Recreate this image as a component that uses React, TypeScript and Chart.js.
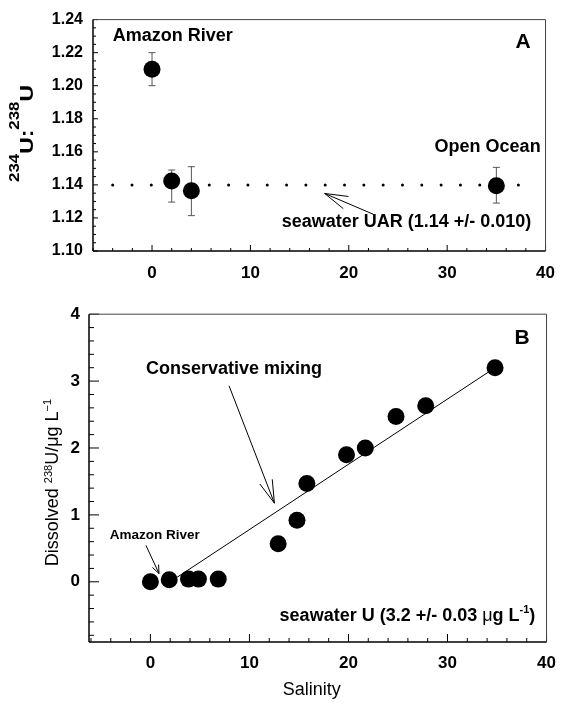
import React, { useEffect, useRef } from 'react';
import { Chart, registerables } from 'chart.js';

Chart.register(...registerables);

const FONT = "'Liberation Sans', Arial, Helvetica, sans-serif";

// ---------- Panel A data ----------
const uarSalinity = [0, 2, 4, 35];
const uarRatio = [1.21, 1.1424, 1.1365, 1.1395];
const uarHigh = [1.22, 1.149, 1.151, 1.1506];
const uarLow = [1.2, 1.1296, 1.1214, 1.129];
const seawaterUAR = 1.14;
const seawaterLineX = [-4, 38.2];
const aYTicks = [1.1, 1.12, 1.14, 1.16, 1.18, 1.2, 1.22, 1.24];
const xTicks = [0, 10, 20, 30, 40];

// ---------- Panel B data ----------
const uSalinity = [0, 1.9, 3.85, 4.85, 6.85, 12.9, 14.8, 15.8, 19.8, 21.7, 24.8, 27.8, 34.8];
const uDissolved = [0.0, 0.03, 0.04, 0.04, 0.04, 0.57, 0.92, 1.47, 1.9, 2.0, 2.47, 2.63, 3.2];
const mixingX = [2, 34.8];
const mixingY = [0, 3.2];
const bYTicks = [0, 1, 2, 3, 4];

type Part = { t: string; size: number; weight?: string; raise?: number };

function fontOf(p: Part) {
  return `${p.weight || 'bold'} ${p.size}px ${FONT}`;
}
function partsWidth(ctx: CanvasRenderingContext2D, parts: Part[]) {
  let w = 0;
  for (const p of parts) {
    ctx.font = fontOf(p);
    w += ctx.measureText(p.t).width;
  }
  return w;
}
function drawParts(ctx: CanvasRenderingContext2D, parts: Part[], x: number, y: number, align: string) {
  const w = partsWidth(ctx, parts);
  let cx = align === 'left' ? x : align === 'right' ? x - w : x - w / 2;
  ctx.textAlign = 'left';
  ctx.textBaseline = 'alphabetic';
  ctx.fillStyle = '#000';
  for (const p of parts) {
    ctx.font = fontOf(p);
    ctx.fillText(p.t, cx, y - (p.raise || 0));
    cx += ctx.measureText(p.t).width;
  }
}
function drawRotated(ctx: CanvasRenderingContext2D, parts: Part[], x: number, y: number, targetLen?: number) {
  ctx.save();
  ctx.translate(x, y);
  ctx.rotate(-Math.PI / 2);
  if (targetLen) {
    const w = partsWidth(ctx, parts);
    ctx.scale(targetLen / w, 1);
  }
  drawParts(ctx, parts, 0, 0, 'center');
  ctx.restore();
}
function line(ctx: CanvasRenderingContext2D, x1: number, y1: number, x2: number, y2: number) {
  ctx.beginPath();
  ctx.moveTo(x1, y1);
  ctx.lineTo(x2, y2);
  ctx.stroke();
}
function drawArrow(ctx: CanvasRenderingContext2D, tx: number, ty: number, hx: number, hy: number, len: number, deg: number) {
  ctx.save();
  ctx.strokeStyle = '#000';
  ctx.lineWidth = 1;
  line(ctx, tx, ty, hx, hy);
  const ang = Math.atan2(ty - hy, tx - hx);
  const a = (deg * Math.PI) / 180;
  for (const s of [-1, 1]) {
    line(ctx, hx, hy, hx + len * Math.cos(ang + s * a), hy + len * Math.sin(ang + s * a));
  }
  ctx.restore();
}
function drawInwardTicks(chart: any, axis: 'x' | 'y', step: number, majorEvery: number, minorLen: number, majorLen: number) {
  const s = chart.scales[axis];
  const a = chart.chartArea;
  const ctx = chart.ctx as CanvasRenderingContext2D;
  ctx.save();
  ctx.strokeStyle = '#000';
  ctx.lineWidth = 1;
  const i0 = Math.ceil(s.min / step - 1e-9);
  const i1 = Math.floor(s.max / step + 1e-9);
  for (let i = i0; i <= i1; i++) {
    const v = i * step;
    const isMajor = i % majorEvery === 0;
    const len = isMajor ? majorLen : minorLen;
    const p = s.getPixelForValue(v);
    if (axis === 'x') line(ctx, p, a.bottom, p, a.bottom - len);
    else line(ctx, a.left, p, a.left + len, p);
  }
  ctx.restore();
}
function drawFrame(chart: any) {
  const a = chart.chartArea;
  const ctx = chart.ctx as CanvasRenderingContext2D;
  ctx.save();
  ctx.strokeStyle = '#444';
  ctx.lineWidth = 1;
  line(ctx, a.left, a.top, a.right, a.top);
  line(ctx, a.right, a.top, a.right, a.bottom);
  ctx.strokeStyle = '#000';
  ctx.lineWidth = 1.5;
  line(ctx, a.left, a.top, a.left, a.bottom);
  line(ctx, a.left, a.bottom, a.right, a.bottom);
  ctx.restore();
}

const tickFont = (size: number) => ({ family: FONT, size, weight: 'bold' as const });

function makeConfigA(): any {
  const plugin = {
    id: 'panelA',
    beforeDatasetsDraw(chart: any) {
      const ctx = chart.ctx as CanvasRenderingContext2D;
      const x = chart.scales.x;
      const y = chart.scales.y;
      ctx.save();
      ctx.strokeStyle = '#555';
      ctx.lineWidth = 1;
      uarSalinity.forEach((sx, i) => {
        const px = x.getPixelForValue(sx);
        const ph = y.getPixelForValue(uarHigh[i]);
        const pl = y.getPixelForValue(uarLow[i]);
        line(ctx, px, ph, px, pl);
        line(ctx, px - 3.5, ph, px + 3.5, ph);
        line(ctx, px - 3.5, pl, px + 3.5, pl);
      });
      ctx.restore();
    },
    afterDatasetsDraw(chart: any) {
      const ctx = chart.ctx as CanvasRenderingContext2D;
      const x = chart.scales.x;
      const y = chart.scales.y;
      const X = (v: number) => x.getPixelForValue(v);
      const Y = (v: number) => y.getPixelForValue(v);
      drawInwardTicks(chart, 'x', 2, 5, 3, 6);
      drawInwardTicks(chart, 'y', 0.005, 4, 3, 5);
      drawFrame(chart);
      drawParts(ctx, [{ t: 'Amazon River', size: 18 }], X(-4), Y(1.2268), 'left');
      drawParts(ctx, [{ t: 'A', size: 21 }], X(38.5), Y(1.2226), 'right');
      drawParts(ctx, [{ t: 'Open Ocean', size: 18 }], X(39.5), Y(1.16), 'right');
      drawParts(ctx, [{ t: 'seawater UAR (1.14 +/- 0.010)', size: 18 }], X(38.55), Y(1.1144), 'right');
      drawArrow(ctx, X(22.5), Y(1.1222), X(17.55), Y(1.1348), 24, 16);
      drawRotated(
        ctx,
        [
          { t: '234', size: 14, raise: 14 },
          { t: 'U', size: 19 },
          { t: ':', size: 19 },
          { t: '238', size: 14, raise: 14 },
          { t: 'U', size: 19 },
        ],
        33,
        133.5,
        97
      );
    },
  };
  return {
    data: {
      datasets: [
        {
          type: 'scatter',
          data: uarSalinity.map((sx, i) => ({ x: sx, y: uarRatio[i] })),
          pointRadius: 8.5,
          pointBackgroundColor: '#000',
          pointBorderWidth: 0,
          order: 0,
        },
        {
          type: 'line',
          data: seawaterLineX.map((sx) => ({ x: sx, y: seawaterUAR })),
          borderColor: '#000',
          borderWidth: 3,
          borderDash: [0.001, 19.319],
          borderCapStyle: 'round',
          pointRadius: 0,
          order: 1,
        },
      ],
    },
    options: {
      responsive: false,
      animation: false,
      layout: { padding: { left: 0, right: 11, top: 18, bottom: 0 } },
      plugins: { legend: { display: false }, tooltip: { enabled: false } },
      scales: {
        x: {
          type: 'linear',
          min: -6,
          max: 40,
          afterBuildTicks: (s: any) => {
            s.ticks = xTicks.map((v) => ({ value: v }));
          },
          afterFit: (s: any) => {
            s.height = 44;
          },
          grid: { display: false, drawTicks: false },
          border: { display: false },
          ticks: { font: tickFont(17), color: '#000', padding: 12, maxRotation: 0, autoSkip: false },
        },
        y: {
          type: 'linear',
          min: 1.1,
          max: 1.24,
          afterBuildTicks: (s: any) => {
            s.ticks = aYTicks.map((v) => ({ value: v }));
          },
          afterFit: (s: any) => {
            s.width = 93;
          },
          grid: { display: false, drawTicks: false },
          border: { display: false },
          ticks: {
            font: tickFont(16),
            color: '#000',
            padding: 10,
            autoSkip: false,
            callback: (v: any) => Number(v).toFixed(2),
          },
        },
      },
    },
    plugins: [plugin],
  };
}

function makeConfigB(): any {
  const plugin = {
    id: 'panelB',
    afterDatasetsDraw(chart: any) {
      const ctx = chart.ctx as CanvasRenderingContext2D;
      const x = chart.scales.x;
      const y = chart.scales.y;
      const X = (v: number) => x.getPixelForValue(v);
      const Y = (v: number) => y.getPixelForValue(v);
      drawInwardTicks(chart, 'x', 2, 5, 4, 8);
      drawInwardTicks(chart, 'y', 0.2, 5, 5, 10);
      drawFrame(chart);
      drawParts(ctx, [{ t: 'B', size: 21 }], X(38.3), Y(3.56), 'right');
      drawParts(ctx, [{ t: 'Conservative mixing', size: 18 }], X(-0.45), Y(3.1), 'left');
      drawArrow(ctx, X(7.94), Y(2.93), X(12.52), Y(1.175), 24, 16);
      drawParts(ctx, [{ t: 'Amazon River', size: 13.5 }], X(-4.11), Y(0.647), 'left');
      drawArrow(ctx, X(-0.45), Y(0.544), X(0.87), Y(0.123), 9, 22);
      drawParts(
        ctx,
        [
          { t: 'seawater U (3.2 +/- 0.03 ', size: 18 },
          { t: 'μ', size: 18, weight: 'normal' },
          { t: 'g L', size: 18 },
          { t: '-1', size: 11, raise: 8 },
          { t: ')', size: 18 },
        ],
        X(38.87),
        Y(-0.588),
        'right'
      );
      drawRotated(
        ctx,
        [
          { t: 'Dissolved ', size: 18, weight: 'normal' },
          { t: '238', size: 11, weight: 'normal', raise: 6 },
          { t: 'U/μg L', size: 18, weight: 'normal' },
          { t: '−1', size: 11, weight: 'normal', raise: 7 },
        ],
        58,
        187.5
      );
      drawParts(ctx, [{ t: 'Salinity', size: 18, weight: 'normal' }], X(16.3), 400, 'center');
    },
  };
  return {
    data: {
      datasets: [
        {
          type: 'scatter',
          data: uSalinity.map((sx, i) => ({ x: sx, y: uDissolved[i] })),
          pointRadius: 8.5,
          pointBackgroundColor: '#000',
          pointBorderWidth: 0,
          order: 0,
        },
        {
          type: 'line',
          data: mixingX.map((sx, i) => ({ x: sx, y: mixingY[i] })),
          borderColor: '#000',
          borderWidth: 1,
          pointRadius: 0,
          order: 1,
        },
      ],
    },
    options: {
      responsive: false,
      animation: false,
      layout: { padding: { left: 0, right: 14, top: 16, bottom: 0 } },
      plugins: { legend: { display: false }, tooltip: { enabled: false } },
      scales: {
        x: {
          type: 'linear',
          min: -6.2,
          max: 40,
          afterBuildTicks: (s: any) => {
            s.ticks = xTicks.map((v) => ({ value: v }));
          },
          afterFit: (s: any) => {
            s.height = 62;
          },
          grid: { display: false, drawTicks: false },
          border: { display: false },
          ticks: { font: tickFont(17), color: '#000', padding: 11, maxRotation: 0, autoSkip: false },
        },
        y: {
          type: 'linear',
          min: -0.9,
          max: 4,
          afterBuildTicks: (s: any) => {
            s.ticks = bYTicks.map((v) => ({ value: v }));
          },
          afterFit: (s: any) => {
            s.width = 89;
          },
          grid: { display: false, drawTicks: false },
          border: { display: false },
          ticks: { font: tickFont(17), color: '#000', padding: 9, autoSkip: false },
        },
      },
    },
    plugins: [plugin],
  };
}

export default function App() {
  const refA = useRef<HTMLCanvasElement | null>(null);
  const refB = useRef<HTMLCanvasElement | null>(null);
  useEffect(() => {
    const a = new Chart(refA.current as HTMLCanvasElement, makeConfigA());
    const b = new Chart(refB.current as HTMLCanvasElement, makeConfigB());
    return () => {
      a.destroy();
      b.destroy();
    };
  }, []);
  return (
    <div style={{ position: 'absolute', left: 0, top: 0, width: 567, height: 704, background: '#fff' }}>
      <canvas ref={refA} width={567} height={295} style={{ position: 'absolute', left: 0, top: 0, display: 'block' }} />
      <canvas ref={refB} width={567} height={409} style={{ position: 'absolute', left: 0, top: 295, display: 'block' }} />
    </div>
  );
}
